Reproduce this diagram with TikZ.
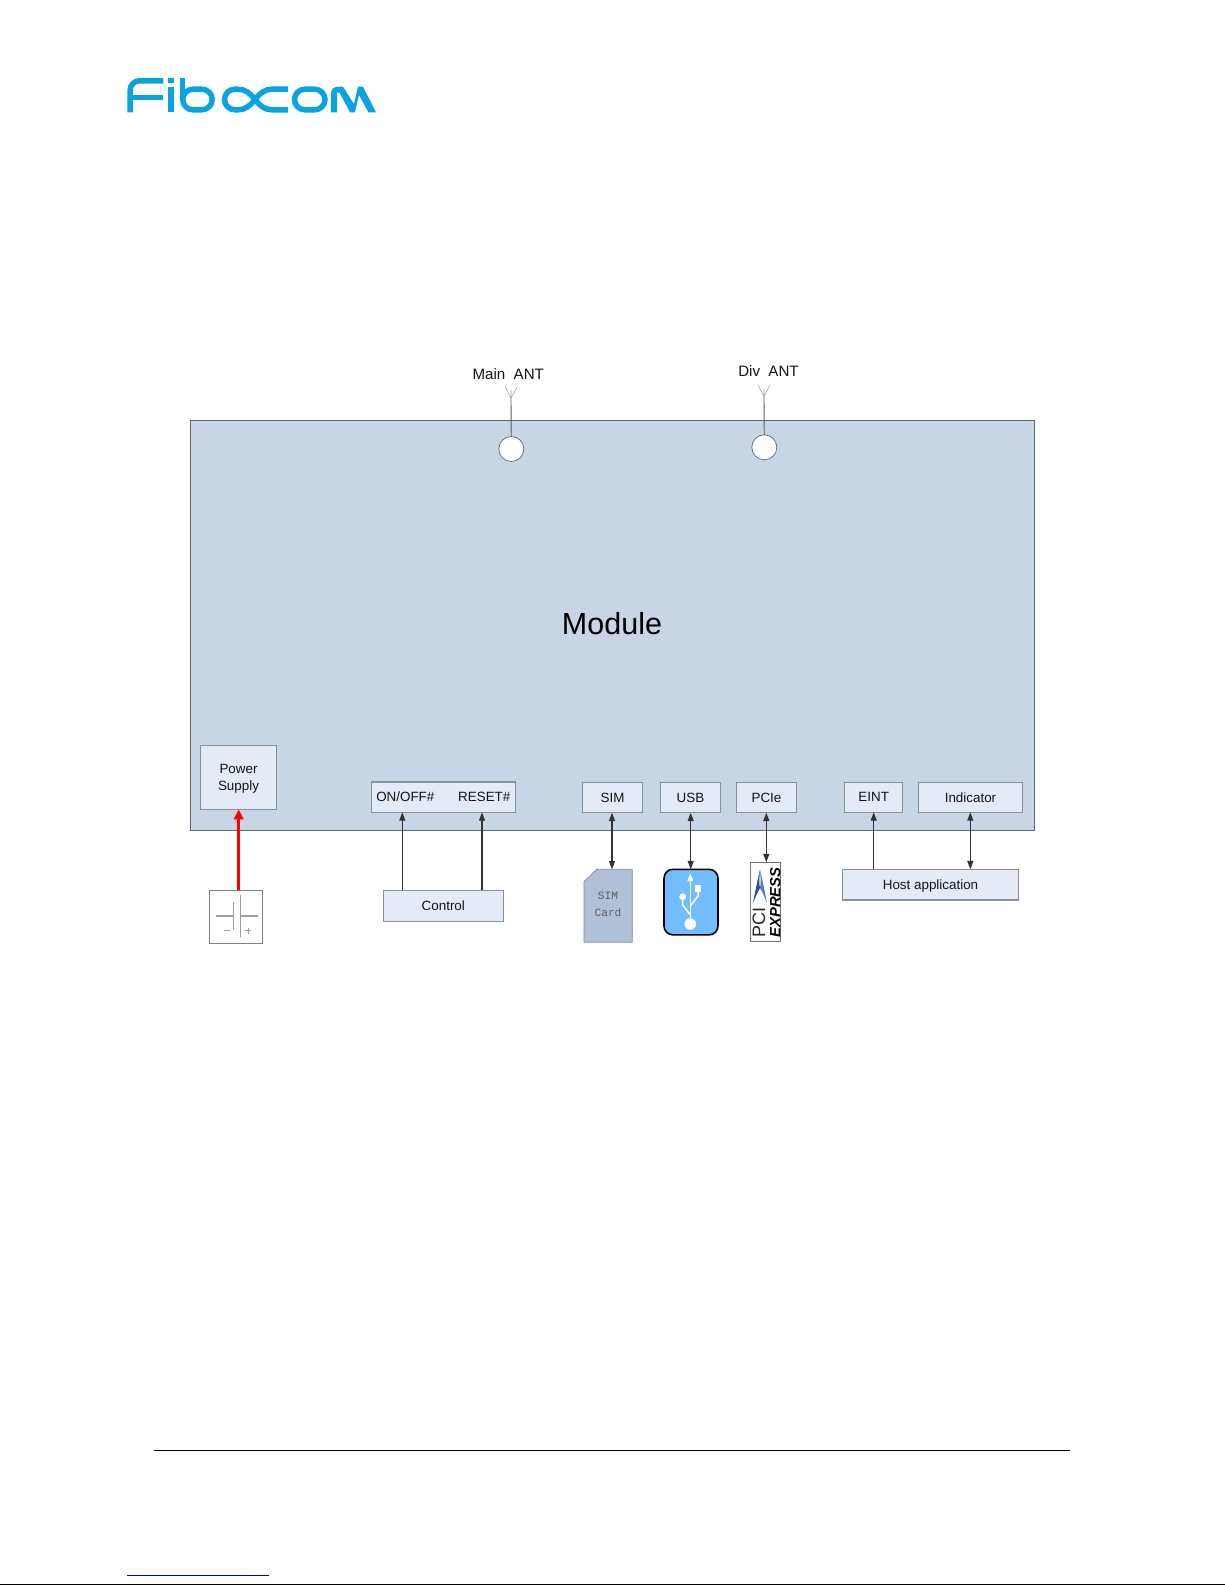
\documentclass[tikz,border=0pt]{standalone}
\usepackage{fontspec}
\setmainfont{Liberation Sans}
\newfontfamily\simfont{Liberation Mono}
\usetikzlibrary{arrows.meta}
\definecolor{modfill}{HTML}{C8D5E5}
\definecolor{modline}{HTML}{5F686E}
\definecolor{boxfill}{HTML}{E4EBF6}
\definecolor{boxline}{HTML}{8A9196}
\definecolor{logoblue}{HTML}{0AA3E0}
\definecolor{usbblue}{HTML}{72BDFF}
\definecolor{simfill}{HTML}{AFC0D9}
\definecolor{pciblue}{HTML}{2A4F9E}
\definecolor{txt}{HTML}{141414}
\tikzset{
  module/.style={draw=modline,fill=modfill,line width=0.5pt,inner sep=0pt,outer sep=0pt},
  box/.style={draw=boxline,fill=boxfill,line width=0.55pt,inner sep=0pt,outer sep=0pt,text=txt,font=\fontsize{6.7}{8.3}\selectfont,align=center},
  lab/.style={inner sep=0pt,outer sep=0pt,text=txt,font=\fontsize{6.7}{8.3}\selectfont,align=center},
  antlab/.style={inner sep=0pt,text=txt,font=\fontsize{7.55}{9}\selectfont},
  port/.style={circle,draw=modline,fill=white,line width=0.35pt,inner sep=0pt,outer sep=0pt,minimum size=12.5pt},
  conn/.style={draw=black!80,line width=0.6pt,-{Triangle[length=4.2pt,width=3pt]}},
  bidir/.style={draw=black!80,line width=0.6pt,{Triangle[length=4.2pt,width=3pt]}-{Triangle[length=4.2pt,width=3pt]}},
  power/.style={draw=red,line width=1.5pt,-{Triangle[length=5pt,width=4.7pt]}},
  antline/.style={draw=black!65,line width=0.45pt},
  antv/.style={draw=black!35,line width=0.3pt},
  batt/.style={draw=black!38,line width=0.55pt},
  logostroke/.style={draw=logoblue,line width=2.75pt,line join=round},
}
\newcommand{\bx}[7][box]{\node[#1,minimum width={(#5-#3)*0.5pt},minimum height={(#6-#4)*0.5pt}] (#2) at ({(#3+#5)/2},{(#4+#6)/2}) {#7};}
\begin{document}
\begin{tikzpicture}[x=0.5pt,y=-0.5pt]
\useasboundingbox (0,0) rectangle (1225,1585);
\fill[white] (0,0) rectangle (1225,1585);

% --- logo
\begin{scope}
 \draw[logostroke,rounded corners=4.6pt] (130.2,112.3) -- (130.2,80.8) -- (163.3,80.8);
 \draw[logostroke] (130.2,97.6) -- (163.3,97.6);
 \draw[logostroke] (171.2,86.7) -- (171.2,112.3);
 \draw[logostroke] (171.2,78.2) -- (171.2,83.2);
 \draw[logostroke] (182.7,78.3) -- (182.7,99.5);
 \draw[logostroke,rounded corners=5.15pt] (182.7,89.2) rectangle (212.2,109.8);
 \draw[logostroke] (255,99.5) .. controls (250,93) and (245,89.2) .. (238,89.2) -- (234.8,89.2) .. controls (229.1,89.2) and (224.5,93.8) .. (224.5,99.5) .. controls (224.5,105.2) and (229.1,109.8) .. (234.8,109.8) -- (238,109.8) .. controls (245,109.8) and (250,106) .. (255,99.5) .. controls (260,93) and (265,89.2) .. (272,89.2) -- (288,89.2);
 \draw[logostroke] (255,99.5) .. controls (260,106) and (265,109.8) .. (272,109.8) -- (288,109.8);
 \draw[logostroke,rounded corners=5.15pt] (294.5,89.2) rectangle (325,109.8);
 \fill[logoblue] (331,112.3) -- (331,94) .. controls (331,88.5) and (334,86.7) .. (339,86.7) -- (343,86.7) -- (354,104) -- (358,86.7) -- (363,86.7) -- (376,112.3) -- (368.5,112.3) -- (359,95) -- (355,112.3) -- (350,112.3) -- (339.5,92.5) -- (337,92.5) -- (337,112.3) -- cycle;
\end{scope}

% --- module
\bx[module]{module}{190.3}{420.3}{1034}{830}{}
\node[inner sep=0pt,text=black,font=\fontsize{15.25}{18}\selectfont] (modlabel) at (612,623.6) {Module};

% --- antennas
\node[port] (mainport) at (511.3,449) {};
\node[port] (divport) at (764.3,447.3) {};
\coordinate (mainv) at (511,398.3);
\coordinate (divv) at (764,396.7);
\coordinate (mainl) at (505.3,386.7);
\coordinate (mainr) at (517.3,386.7);
\coordinate (mainm) at (511,390);
\coordinate (divl) at (758,385);
\coordinate (divr) at (770,385);
\coordinate (divm) at (764,388.5);
\draw[antline] (mainport) -- (mainv);
\draw[antline] (divport) -- (divv);
\draw[antv] (mainl) -- (mainv) -- (mainr) (mainv) -- (mainm);
\draw[antv] (divl) -- (divv) -- (divr) (divv) -- (divm);
\node[antlab] (mainlab) at (508.3,374) {Main\ \ ANT};
\node[antlab] (divlab) at (768.5,370.7) {Div\ \ ANT};

% --- interface boxes
\bx{psu}{200.3}{745.3}{276.7}{809.3}{}
\node[lab] (psulab) at (238.5,778.5) {Power\\Supply};
\bx{ctlbox}{371.3}{782}{515.7}{812.3}{}
\node[lab] (onoff) at (405.3,796.7) {ON/OFF\#};
\node[lab] (reset) at (484.3,796.7) {RESET\#};
\bx{sim}{582.3}{782.3}{642.7}{812.7}{SIM}
\bx{usb}{660.3}{782.3}{720.7}{812.7}{USB}
\bx{pcie}{736.3}{782.3}{796.7}{812.7}{PCIe}
\bx{eint}{844.7}{782.3}{902.7}{812.3}{EINT}
\bx{ind}{918.3}{782.3}{1022.7}{812.3}{Indicator}

% --- external boxes
\bx{control}{383.3}{890.3}{503.3}{921.3}{Control}
\bx[box,text depth=0pt]{host}{842.7}{869.3}{1018.3}{900}{Host application}

% --- battery
\node[draw=black!50,fill=white,line width=0.45pt,inner sep=0pt,outer sep=0pt,minimum width=26.5pt,minimum height=26.5pt] (battery) at (235.8,916.8) {};
\draw[batt] (216,916) -- (233.3,916) (233.3,901.7) -- (233.3,930);
\draw[batt] (258.3,916) -- (240.7,916) (240.7,895) -- (240.7,937.3);
\draw[batt,line width=0.4pt] (224,930.3) -- (230,930.3);
\draw[batt,line width=0.35pt] (245,930.5) -- (251,930.5) (248,927.5) -- (248,933.5);

% --- SIM card
\node[minimum size=0pt,inner sep=0pt,outer sep=0pt] (simcard) at (608,869.3) {};
\fill[simfill,draw=black!45,line width=0.4pt] (596.7,869.3) -- (632.3,869.3) -- (632.3,942.3) -- (584,942.3) -- (584,881.7) -- cycle;
\node[inner sep=0pt,text=black!62,font=\simfont\fontsize{5.6}{7}\selectfont] (simt1) at (608,895.7) {SIM};
\node[inner sep=0pt,text=black!62,font=\simfont\fontsize{5.6}{7}\selectfont] (simt2) at (608,913) {Card};

% --- USB icon
\node[draw=black,fill=usbblue,line width=0.8pt,rounded corners=4.5pt,inner sep=0pt,outer sep=0pt,minimum width=27pt,minimum height=32.8pt] (usbicon) at (691,902.1) {};
\draw[white,line width=0.75pt,line join=round] (690.3,924) -- (690.3,880);
\fill[white] (690.3,873.5) -- (693.3,881) -- (687.3,881) -- cycle;
\fill[white] (690.3,924) circle[radius=2.9pt];
\fill[white] (682.7,896.7) circle[radius=1.7pt];
\fill[white] (694.8,885.2) rectangle (701.2,891.6);
\draw[white,line width=0.75pt,line join=round] (682.7,897) -- (682.7,905) -- (690.3,915);
\draw[white,line width=0.75pt,line join=round] (698,890) -- (698,896) -- (690.3,906);

% --- PCI Express logo
\node[draw=black!55,fill=white,line width=0.4pt,inner sep=0pt,outer sep=0pt,minimum width=15.2pt,minimum height=39.5pt] (pcilogo) at (765.5,901.8) {};
\node[rotate=90,inner sep=0pt,text=black!85,font=\fontsize{9}{10}\selectfont] (pcitext) at (758.8,922.3) {PCI};
\node[rotate=90,inner sep=0pt,text=black,font=\fontsize{7.4}{8}\selectfont\bfseries\itshape] (exptext) at (775.2,902.5) {EXPRESS};
\fill[pciblue] (760,869.5) .. controls (758,878) and (755.5,890) .. (752.8,903.5) .. controls (755,898) and (757.5,892) .. (760,888) .. controls (758.8,884) and (759.5,876) .. (760,869.5) -- cycle;
\fill[pciblue!75!white] (760,869.5) .. controls (762,878) and (764.5,890) .. (767,903.5) .. controls (765,898) and (762.5,892) .. (760,888) .. controls (761.2,884) and (760.5,876) .. (760,869.5) -- cycle;

% --- connectors
\coordinate (xon) at (402.3,0);
\coordinate (xre) at (482,0);
\coordinate (xsim) at (612,0);
\coordinate (xusb) at (690.7,0);
\coordinate (xpci) at (766.3,0);
\coordinate (xei) at (873.7,0);
\coordinate (xin) at (970.3,0);
\coordinate (xpw) at (238.7,0);
\draw[power] (battery.north -| xpw) -- (psu.south -| xpw);
\draw[conn] (control.north -| xon) -- (ctlbox.south -| xon);
\draw[conn] (control.north -| xre) -- (ctlbox.south -| xre);
\draw[bidir] (sim.south -| xsim) -- (simcard.north -| xsim);
\draw[bidir] (usb.south -| xusb) -- (usbicon.north -| xusb);
\draw[bidir] (pcie.south -| xpci) -- (pcilogo.north -| xpci);
\draw[conn] (host.north -| xei) -- (eint.south -| xei);
\draw[bidir] (ind.south -| xin) -- (host.north -| xin);

% --- footer
\coordinate (rulea) at (153.6,1450.3);
\coordinate (ruleb) at (1070,1450.3);
\draw[black,line width=0.55pt] (rulea) -- (ruleb);
\coordinate (linka) at (127.3,1575.3);
\coordinate (linkb) at (269.3,1575.3);
\draw[blue!80!black,line width=0.45pt] (linka) -- (linkb);
\coordinate (pagea) at (0,1584.2);
\coordinate (pageb) at (1225,1584.2);
\draw[black,line width=0.5pt] (pagea) -- (pageb);
\end{tikzpicture}
\end{document}
